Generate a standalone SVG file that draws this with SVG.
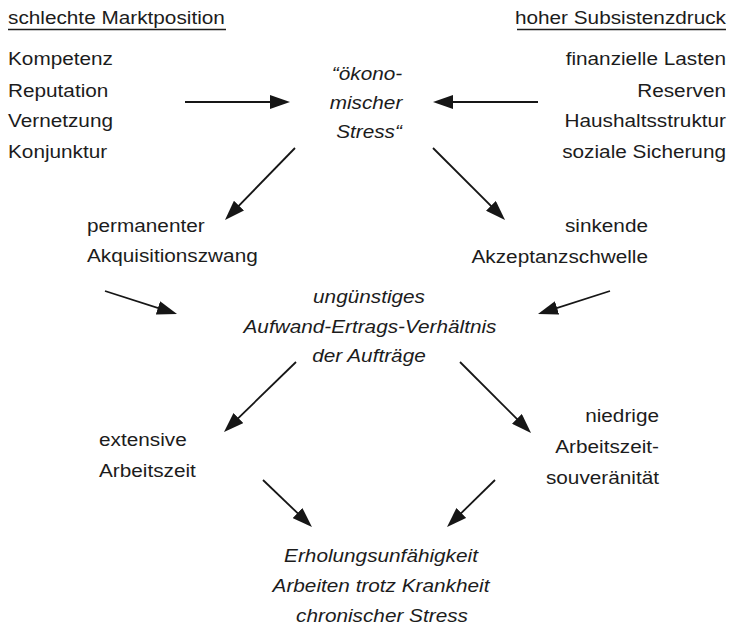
<svg xmlns="http://www.w3.org/2000/svg" width="731" height="629" viewBox="0 0 731 629">
  <style>
    text { font-family: "Liberation Sans", Arial, sans-serif; font-size: 18.7px; fill: #1c1c1c; }
    .it { font-style: italic; }
    .mid { text-anchor: middle; }
    .end { text-anchor: end; }
    .conn { stroke: #161616; fill: none; stroke-width: 1.8; marker-end: url(#head); }
    .hz { stroke-width: 2.1; }
    .ul { stroke: #1c1c1c; stroke-width: 1.3; }
  </style>
  <defs>
    <marker id="head" viewBox="0 0 20 14" refX="16" refY="7" markerWidth="20" markerHeight="14" markerUnits="userSpaceOnUse" orient="auto">
      <path d="M0,0 L20,7 L0,14 z" fill="#161616"/>
    </marker>
  </defs>
  <rect width="731" height="629" fill="#ffffff"/>

  <!-- left factor column -->
  <g id="marktposition">
    <text transform="translate(8 24) scale(1.11 1)">schlechte Marktposition</text>
    <line class="ul" x1="8" y1="29.5" x2="226" y2="29.5"/>
    <text transform="translate(8 65) scale(1.11 1)">Kompetenz</text>
    <text transform="translate(8 96.5) scale(1.11 1)">Reputation</text>
    <text transform="translate(8 127) scale(1.11 1)">Vernetzung</text>
    <text transform="translate(8 158) scale(1.11 1)">Konjunktur</text>
  </g>

  <!-- right factor column -->
  <g id="subsistenzdruck">
    <text class="end" transform="translate(726 24) scale(1.11 1)">hoher Subsistenzdruck</text>
    <line class="ul" x1="517" y1="29.5" x2="726" y2="29.5"/>
    <text class="end" transform="translate(726 65) scale(1.11 1)">finanzielle Lasten</text>
    <text class="end" transform="translate(726 96.5) scale(1.11 1)">Reserven</text>
    <text class="end" transform="translate(726 127) scale(1.11 1)">Haushaltsstruktur</text>
    <text class="end" transform="translate(726 158) scale(1.11 1)">soziale Sicherung</text>
  </g>

  <g id="stress">
    <text class="it mid" transform="translate(367 80) scale(1.11 1)">“ökono-</text>
    <text class="it mid" transform="translate(366 109) scale(1.11 1)">mischer</text>
    <text class="it mid" transform="translate(369 138) scale(1.11 1)">Stress“</text>
  </g>

  <g id="akquisition">
    <text transform="translate(87 232) scale(1.11 1)">permanenter</text>
    <text transform="translate(87 262) scale(1.11 1)">Akquisitionszwang</text>
  </g>

  <g id="akzeptanz">
    <text class="end" transform="translate(648 232) scale(1.11 1)">sinkende</text>
    <text class="end" transform="translate(648 263) scale(1.11 1)">Akzeptanzschwelle</text>
  </g>

  <g id="verhaeltnis">
    <text class="it mid" transform="translate(369 303) scale(1.11 1)">ungünstiges</text>
    <text class="it mid" transform="translate(370 333) scale(1.11 1)">Aufwand-Ertrags-Verhältnis</text>
    <text class="it mid" transform="translate(369 362) scale(1.11 1)">der Aufträge</text>
  </g>

  <g id="arbeitszeit">
    <text transform="translate(99 446) scale(1.11 1)">extensive</text>
    <text transform="translate(99 477) scale(1.11 1)">Arbeitszeit</text>
  </g>

  <g id="souveraenitaet">
    <text class="end" transform="translate(659 422) scale(1.11 1)">niedrige</text>
    <text class="end" transform="translate(659 453) scale(1.11 1)">Arbeitszeit-</text>
    <text class="end" transform="translate(659 484) scale(1.11 1)">souveränität</text>
  </g>

  <g id="folgen">
    <text class="it mid" transform="translate(381 562) scale(1.11 1)">Erholungsunfähigkeit</text>
    <text class="it mid" transform="translate(381 592) scale(1.11 1)">Arbeiten trotz Krankheit</text>
    <text class="it mid" transform="translate(382 622) scale(1.11 1)">chronischer Stress</text>
  </g>

  <!-- connectors -->
  <g id="connectors">
    <line class="conn hz" x1="185" y1="102" x2="286" y2="102"/>
    <line class="conn hz" x1="538" y1="102" x2="437" y2="102"/>
    <line class="conn" x1="295" y1="148" x2="227.8" y2="217.1"/>
    <line class="conn" x1="433" y1="148" x2="502.2" y2="217.2"/>
    <line class="conn" x1="105" y1="291" x2="173.2" y2="312.8"/>
    <line class="conn" x1="610" y1="291" x2="541.8" y2="312.8"/>
    <line class="conn" x1="296" y1="362" x2="226.9" y2="429.2"/>
    <line class="conn" x1="263" y1="480" x2="309.1" y2="524.2"/>
    <line class="conn" x1="460" y1="362" x2="528.2" y2="430.2"/>
    <line class="conn" x1="495" y1="480" x2="449.9" y2="524.2"/>
  </g>
</svg>
